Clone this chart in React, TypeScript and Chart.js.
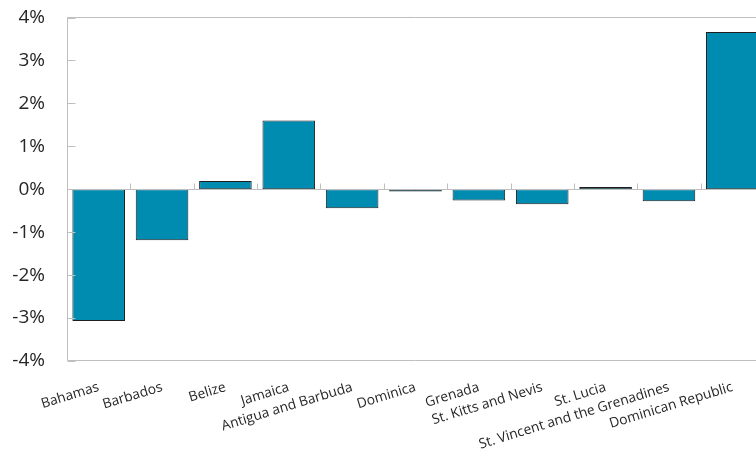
import { useEffect, useRef } from "react";
import { Chart, registerables } from "chart.js";

Chart.register(...registerables);

// Change by country, in percent
const countries = [
  "Bahamas",
  "Barbados",
  "Belize",
  "Jamaica",
  "Antigua and Barbuda",
  "Dominica",
  "Grenada",
  "St. Kitts and Nevis",
  "St. Lucia",
  "St. Vincent and the Grenadines",
  "Dominican Republic",
];
const changes = [-3.07, -1.19, 0.19, 1.6, -0.44, -0.05, -0.26, -0.35, 0.05, -0.28, 3.66];
const yTickValues = [-4, -3, -2, -1, 0, 1, 2, 3, 4];

const FONT = "'Open Sans', 'Noto Sans', sans-serif";
const AXIS_GREY = "#bfbfbf";

// Plot frame, zero line with category tick marks, and inward value ticks
const framePlugin = {
  id: "frame",
  afterDatasetsDraw(chart: any) {
    const { ctx, chartArea: a, scales } = chart;
    const xs = scales.x;
    const ys = scales.y;
    const L = Math.round(a.left) + 0.5;
    const T = Math.round(a.top) - 0.5;
    const B = Math.round(a.bottom) - 0.5;
    const z = Math.round(ys.getPixelForValue(0)) + 0.5;
    ctx.save();
    ctx.strokeStyle = AXIS_GREY;
    ctx.lineWidth = 1;
    ctx.beginPath();
    ctx.moveTo(a.right, T);
    ctx.lineTo(L, T);
    ctx.lineTo(L, B);
    ctx.lineTo(a.right, B);
    ctx.moveTo(L, z);
    ctx.lineTo(a.right, z);
    for (let i = 1; i < countries.length; i++) {
      const bx = Math.round((xs.getPixelForTick(i - 1) + xs.getPixelForTick(i)) / 2) + 0.5;
      ctx.moveTo(bx, z);
      ctx.lineTo(bx, z - 6);
    }
    for (const v of yTickValues) {
      const py = Math.round(ys.getPixelForValue(v)) + 0.5;
      ctx.moveTo(L, py);
      ctx.lineTo(L + 8, py);
    }
    ctx.stroke();
    ctx.restore();
  },
};

export default function App() {
  const canvasRef = useRef<HTMLCanvasElement | null>(null);

  useEffect(() => {
    const canvas = canvasRef.current;
    if (!canvas) return;
    const chart = new Chart(canvas, {
      type: "bar",
      data: {
        labels: countries,
        datasets: [
          {
            data: changes,
            backgroundColor: "#008bb0",
            borderColor: "#1e1e1e",
            borderWidth: 1,
            borderSkipped: false,
            barPercentage: 0.83,
            categoryPercentage: 1,
          },
        ],
      },
      options: {
        responsive: false,
        animation: false,
        layout: { padding: { top: 17.5, right: 8, left: 0, bottom: 0 } },
        plugins: {
          legend: { display: false },
          tooltip: { enabled: false },
        },
        scales: {
          x: {
            grid: { display: false },
            border: { display: false },
            ticks: {
              autoSkip: false,
              minRotation: 17,
              maxRotation: 17,
              padding: 10,
              color: "#262626",
              font: { family: FONT, size: 13.8 },
            },
            afterFit(scale: any) {
              scale.height = 103;
              scale.paddingLeft = 0;
              scale.paddingRight = 0;
            },
          },
          y: {
            min: -4,
            max: 4,
            grid: { display: false },
            border: { display: false },
            ticks: {
              stepSize: 1,
              padding: 14,
              color: "#262626",
              font: { family: FONT, size: 19 },
              callback: (v: any) => `${v}%`,
            },
            afterFit(scale: any) {
              scale.width = 67;
              scale.paddingTop = 0;
              scale.paddingBottom = 0;
            },
          },
        },
      },
      plugins: [framePlugin],
    });
    return () => chart.destroy();
  }, []);

  return (
    <div
      style={{
        position: "absolute",
        left: 0,
        top: 0,
        width: 756,
        height: 464,
        overflow: "hidden",
        background: "#ffffff",
      }}
    >
      <canvas ref={canvasRef} width={772} height={464} style={{ display: "block", width: 772, height: 464 }} />
    </div>
  );
}
